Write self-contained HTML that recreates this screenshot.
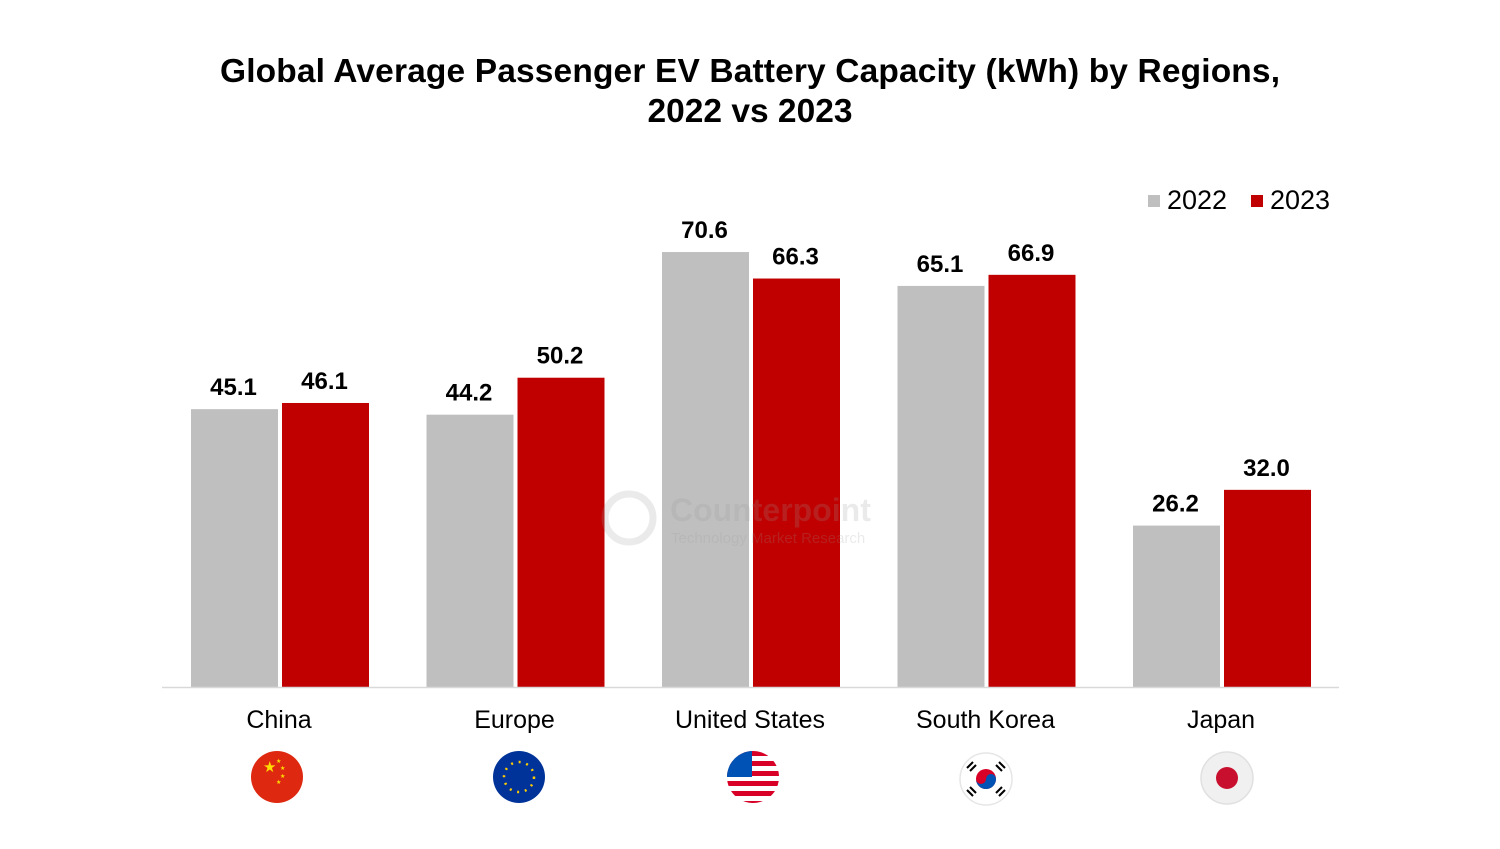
<!DOCTYPE html>
<html><head><meta charset="utf-8">
<style>
body{margin:0;background:#fff;width:1500px;height:844px;overflow:hidden;font-family:"Liberation Sans",Arial,sans-serif;}
</style></head>
<body>
<svg width="1500" height="844" xmlns="http://www.w3.org/2000/svg">
<text x="750" y="82" text-anchor="middle" font-size="33.5" font-weight="bold" fill="#000" textLength="1060">Global Average Passenger EV Battery Capacity (kWh) by Regions,</text>
<text x="750" y="122" text-anchor="middle" font-size="33.5" font-weight="bold" fill="#000">2022 vs 2023</text>
<g>
<rect x="1148" y="195" width="12" height="12" fill="#bfbfbf"/>
<text x="1167" y="209" font-size="27" fill="#000">2022</text>
<rect x="1251" y="195" width="12" height="12" fill="#c00000"/>
<text x="1270" y="209" font-size="27" fill="#000">2023</text>
</g>
<g id="bars"></g>
<g opacity="0.2">
<circle cx="629" cy="518" r="24" fill="none" stroke="#999" stroke-width="7"/>
<text x="670" y="521" font-size="32" font-weight="bold" fill="#999">Counterpoint</text>
<text x="671" y="543" font-size="15" fill="#999">Technology Market Research</text>
</g>
<line x1="162" y1="687.5" x2="1339" y2="687.5" stroke="#d9d9d9" stroke-width="1.5"/>
<g id="flags">
<g>
<circle cx="277" cy="777" r="26" fill="#de2910"/>
<text x="263" y="772" font-size="15" fill="#ffde00">★</text>
<text x="276" y="763" font-size="6" fill="#ffde00">★</text><text x="280" y="770" font-size="6" fill="#ffde00">★</text><text x="280" y="778" font-size="6" fill="#ffde00">★</text><text x="276" y="784" font-size="6" fill="#ffde00">★</text>
</g>
<g>
<circle cx="519" cy="777" r="26" fill="#003399"/>
<circle cx="519" cy="777" r="15" fill="none" stroke="#ffcc00" stroke-width="2.5" stroke-dasharray="2 5.8"/>
</g>
<g>
<clipPath id="usc"><circle cx="753" cy="777" r="26"/></clipPath>
<g clip-path="url(#usc)">
<rect x="727" y="751" width="52" height="52" fill="#fff"/>
<rect x="727" y="751" width="52" height="5" fill="#d80027"/><rect x="727" y="761" width="52" height="5" fill="#d80027"/><rect x="727" y="771" width="52" height="5" fill="#d80027"/><rect x="727" y="781" width="52" height="5" fill="#d80027"/><rect x="727" y="791" width="52" height="5" fill="#d80027"/><rect x="727" y="801" width="52" height="5" fill="#d80027"/>
<rect x="727" y="751" width="25" height="26" fill="#0052b4"/>
</g></g>
<g>
<circle cx="986" cy="779" r="26" fill="#fff" stroke="#e6e6e6" stroke-width="1.5"/>
<circle cx="986" cy="779" r="10" fill="#d80027"/>
<path d="M976 779 a10 10 0 0 0 20 0 a5 5 0 0 0 -10 0 a5 5 0 0 1 -10 0z" fill="#0052b4"/>
<g stroke="#000" stroke-width="2"><line x1="967" y1="768" x2="973" y2="762"/><line x1="970" y1="771" x2="976" y2="765"/><line x1="999" y1="762" x2="1005" y2="768"/><line x1="996" y1="765" x2="1002" y2="771"/><line x1="967" y1="790" x2="973" y2="796"/><line x1="970" y1="787" x2="976" y2="793"/><line x1="999" y1="796" x2="1005" y2="790"/><line x1="996" y1="793" x2="1002" y2="787"/></g>
</g>
<g>
<circle cx="1227" cy="778" r="26" fill="#f0f0f0" stroke="#e0e0e0" stroke-width="1.5"/>
<circle cx="1227" cy="778" r="11" fill="#c8102e"/>
</g>
</g>
</svg>
<script>
const categories=["China","Europe","United States","South Korea","Japan"];
const values2022=[45.1,44.2,70.6,65.1,26.2];
const values2023=[46.1,50.2,66.3,66.9,32.0];
const baseY=687, pxPerUnit=6.161, firstX=191, groupStep=235.5, barW=87, barGap=4;
function yScale(v){return baseY-v*pxPerUnit;}
function xScale(i,s){return firstX+i*groupStep+s*(barW+barGap);}
const ns="http://www.w3.org/2000/svg";
const g=document.getElementById('bars');
const series=[values2022,values2023], colors=["#bfbfbf","#c00000"], years=["2022","2023"];
categories.forEach((c,i)=>{
  series.forEach((vals,s)=>{
    const v=vals[i], x=xScale(i,s), y=yScale(v);
    const r=document.createElementNS(ns,'rect');
    r.setAttribute('x',x);r.setAttribute('y',y);r.setAttribute('width',barW);r.setAttribute('height',baseY-y);r.setAttribute('fill',colors[s]);
    
    
    g.appendChild(r);
    const t=document.createElementNS(ns,'text');
    t.setAttribute('x',x+barW/2-1);t.setAttribute('y',y-14);t.setAttribute('text-anchor','middle');t.setAttribute('font-size','24');t.setAttribute('font-weight','bold');
    t.textContent=v.toFixed(1);
    
    
    g.appendChild(t);
  });
  const l=document.createElementNS(ns,'text');
  l.setAttribute('x',xScale(i,0)+barW+barGap/2-1);l.setAttribute('y',728);l.setAttribute('text-anchor','middle');l.setAttribute('font-size','25');
  l.textContent=c;
  
  
  g.appendChild(l);
});
</script>
</body></html>
